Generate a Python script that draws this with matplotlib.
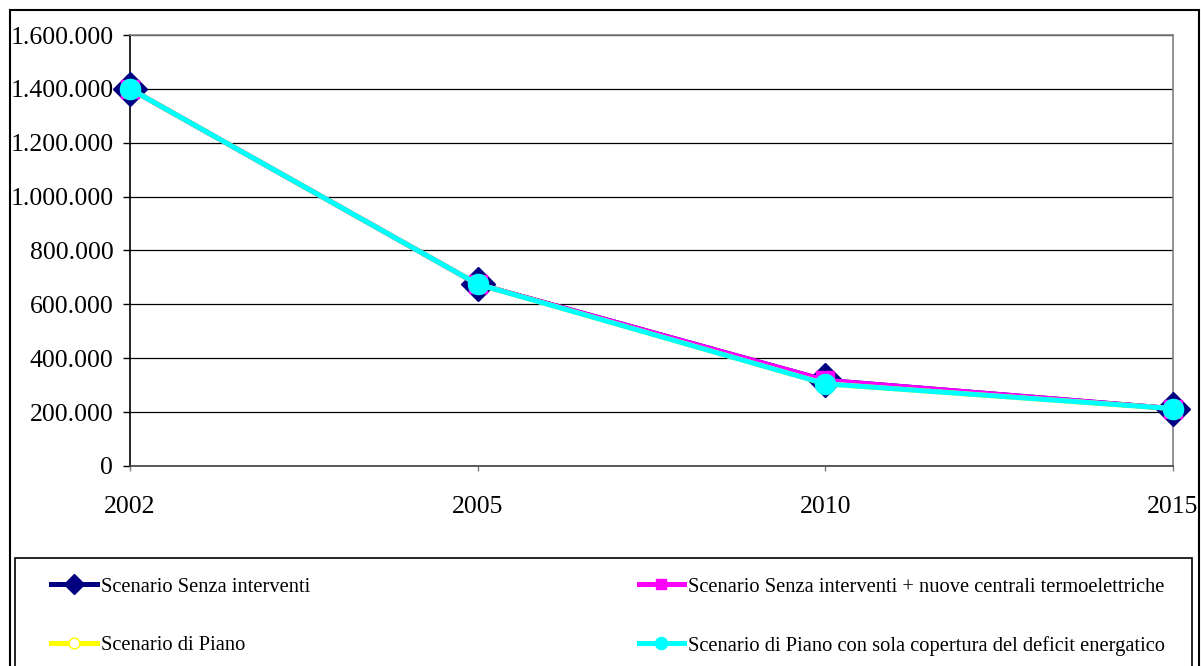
import matplotlib.pyplot as plt
from matplotlib.patches import Rectangle
from matplotlib.ticker import FuncFormatter

plt.rcParams['font.family'] = ['Liberation Serif', 'DejaVu Serif']

# Data
years = ["2002", "2005", "2010", "2015"]
senza = [1400000, 675000, 318000, 213000]
senza_nuove = [1400000, 675000, 318000, 213000]
piano = [1400000, 675000, 305000, 213000]
piano_copertura = [1400000, 675000, 305000, 213000]
yticks = [0, 200000, 400000, 600000, 800000, 1000000, 1200000, 1400000, 1600000]

fig = plt.figure(figsize=(12.01, 6.66), dpi=100)
ax = fig.add_axes([130 / 1201, 1 - 466 / 666, (1173 - 130) / 1201, (466 - 35) / 666])

x = range(len(years))
l1, = ax.plot(x, senza, color='#000080', lw=3.6, marker='D', ms=17, clip_on=False, zorder=3,
              label="Scenario Senza interventi")
l2, = ax.plot(x, senza_nuove, color='#ff00ff', lw=3.6, marker='s', ms=13, clip_on=False, zorder=4,
              label="Scenario Senza interventi + nuove centrali termoelettriche")
l3, = ax.plot(x, piano, color='#ffff00', lw=3.6, marker='o', ms=13, mfc='white', mec='#ffff00',
              clip_on=False, zorder=5, label="Scenario di Piano")
l4, = ax.plot(x, piano_copertura, color='#00ffff', lw=3.6, marker='o', ms=14.5, clip_on=False, zorder=6,
              label="Scenario di Piano con sola copertura del deficit energatico")

ax.set_xlim(0, 3)
ax.set_ylim(0, 1600000)
ax.set_xticks(list(x))
ax.set_xticklabels(years)
ax.set_yticks(yticks)
ax.yaxis.set_major_formatter(FuncFormatter(lambda v, p: f"{v:,.0f}".replace(",", ".")))
ax.grid(axis='y', color='black', lw=0.9, zorder=1)
ax.set_axisbelow(True)

ax.tick_params(axis='y', direction='out', length=5, width=1, pad=7, labelsize=18.5)
ax.tick_params(axis='x', direction='out', length=3.5, width=1, pad=18, labelsize=18.5, color='#808080')
ax.spines['left'].set_color('black')
ax.spines['bottom'].set_color('#404040')
ax.spines['top'].set_color('#808080')
ax.spines['right'].set_color('#808080')
for s in ax.spines.values():
    s.set_linewidth(1.2)

# outer border and legend frame
fig.add_artist(Rectangle((10 / 1201, -0.01), 1189 / 1201, 1.01 - 10 / 666, transform=fig.transFigure,
                         fill=False, ec='black', lw=1.5))
fig.add_artist(Rectangle((15 / 1201, -0.01), 1177 / 1201, 1.01 - 558 / 666, transform=fig.transFigure,
                         fill=False, ec='black', lw=1.2))

fig.legend(handles=[l1, l3, l2, l4], ncol=2, loc='upper left',
           bbox_to_anchor=(41 / 1201, 1 - 567 / 666), frameon=False,
           fontsize=14.8, handlelength=2.2, handletextpad=0.2, columnspacing=16.0,
           labelspacing=1.9, borderpad=0, markerscale=0.6)

fig.savefig("out.png", dpi=100)
